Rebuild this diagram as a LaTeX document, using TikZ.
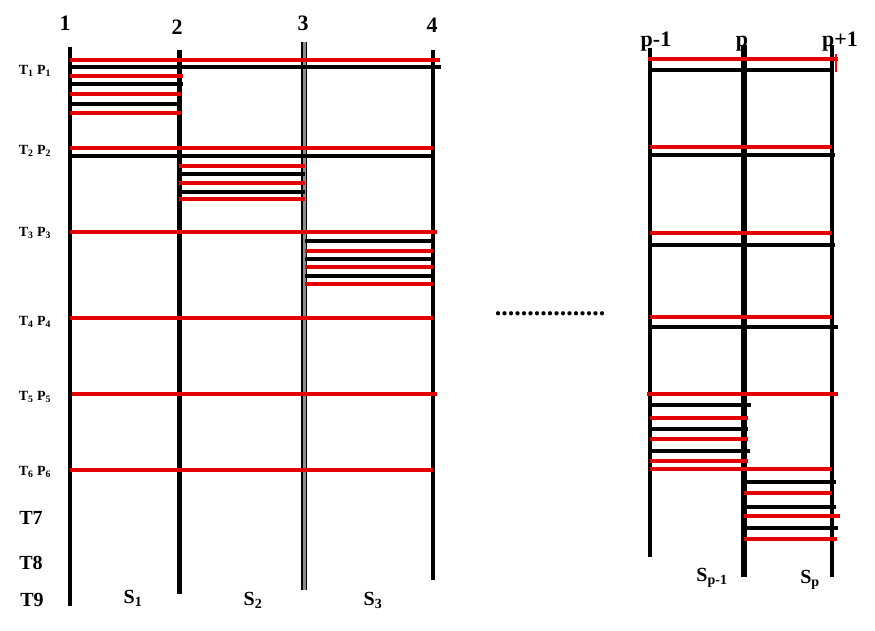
\documentclass[tikz,border=0pt]{standalone}
\usepackage{fontspec}
\setmainfont{Liberation Serif}
\begin{document}
\begin{tikzpicture}[x=1pt,y=-1pt,
  vline/.style={line width=4pt,black},
  rline/.style={line width=3.6pt,red!90!black},
  bline/.style={line width=3.2pt,black},
  big/.style={font=\fontsize{22}{24}\selectfont\bfseries,inner sep=0pt},
  mid/.style={font=\fontsize{20}{22}\selectfont\bfseries,inner sep=0pt},
  small/.style={font=\fontsize{14}{15}\selectfont\bfseries,inner sep=0pt}]
\useasboundingbox[fill=white] (0,0) rectangle (875,630);
% vertical lines
\draw[vline] (70,47) -- (70,606);
\draw[line width=5pt] (179,50) -- (179,594);
\draw[line width=5pt,black!45] (304,42) -- (304,590);
\draw[line width=1.2pt] (302,42) -- (302,590) (306.5,42) -- (306.5,590);
\draw[vline] (433,50) -- (433,580);
% group 1
\draw[rline] (70,60) -- (440,60);
\draw[bline] (70,67) -- (441,67);
\draw[rline] (70,76) -- (183,76);
\draw[bline] (70,84) -- (183,84);
\draw[rline] (70,94) -- (181,94);
\draw[bline] (70,104) -- (181,104);
\draw[rline,line width=4.5pt] (70,113) -- (181,113);
% group 2
\draw[rline] (70,148) -- (433,148);
\draw[bline] (70,156) -- (433,156);
\draw[rline] (179,166) -- (305,166);
\draw[bline] (179,174) -- (305,174);
\draw[rline] (179,183) -- (305,183);
\draw[bline] (179,192) -- (305,192);
\draw[rline] (179,199) -- (305,199);
% group 3
\draw[rline] (70,232) -- (437,232);
\draw[bline] (305,241) -- (433,241);
\draw[rline] (305,251) -- (433,251);
\draw[bline] (305,259) -- (433,259);
\draw[rline] (305,267) -- (433,267);
\draw[bline] (305,276) -- (433,276);
\draw[rline] (305,284) -- (433,284);
% groups 4-6
\draw[rline,line width=4.5pt] (70,318) -- (433,318);
\draw[rline] (72,394) -- (437,394);
\draw[rline] (70,470) -- (433,470);
% column labels
\node[big] (c1) at (65,23) {1};
\node[big] (c2) at (177,27) {2};
\node[big] (c3) at (303,23) {3};
\node[big] (c4) at (432,25) {4};
% row labels
\node[small] (r1) at (35,71) {T\textsubscript{1} P\textsubscript{1}};
\node[small] (r2) at (35,151) {T\textsubscript{2} P\textsubscript{2}};
\node[small] (r3) at (35,233) {T\textsubscript{3} P\textsubscript{3}};
\node[small] (r4) at (35,322) {T\textsubscript{4} P\textsubscript{4}};
\node[small] (r5) at (35,397) {T\textsubscript{5} P\textsubscript{5}};
\node[small] (r6) at (35,472) {T\textsubscript{6} P\textsubscript{6}};
\node[mid] (t7) at (31,518) {T7};
\node[mid] (t8) at (31,563) {T8};
\node[mid] (t9) at (32,600) {T9};
\node[mid] (s1) at (133,598) {S\textsubscript{1}};
\node[mid] (s2) at (253,600) {S\textsubscript{2}};
\node[mid] (s3) at (373,600) {S\textsubscript{3}};
% dots
\node[font=\fontsize{26}{26}\selectfont\bfseries,inner sep=0pt] (dots) at (550,314) {.................};
% right part
\draw[vline] (650,48) -- (650,557);
\draw[line width=6pt] (744,45) -- (744,577);
\draw[vline] (832,45) -- (832,577);
\draw[rline] (648,59) -- (838,59);
\draw[red,line width=2pt] (836,54) -- (836,72);
\draw[bline] (650,70) -- (832,70);
\draw[rline] (650,147) -- (832,147);
\draw[bline] (650,155) -- (835,155);
\draw[rline] (650,233) -- (832,233);
\draw[bline] (650,245) -- (835,245);
\draw[rline] (650,317) -- (832,317);
\draw[bline] (650,327) -- (838,327);
\draw[rline] (647,394) -- (838,394);
\draw[bline] (650,405) -- (751,405);
\draw[rline] (650,418) -- (748,418);
\draw[bline] (650,429) -- (748,429);
\draw[rline] (650,439) -- (748,439);
\draw[bline] (650,451) -- (750,451);
\draw[rline] (650,461) -- (748,461);
\draw[rline] (650,469) -- (832,469);
\draw[bline] (744,482) -- (836,482);
\draw[rline] (744,493) -- (832,493);
\draw[bline] (744,507) -- (836,507);
\draw[rline] (744,516) -- (840,516);
\draw[bline] (744,528) -- (838,528);
\draw[rline] (744,539) -- (837,539);
\node[big] (cp1) at (656,42) {p-1};
\node[big] (cp) at (742,44) {p};
\node[big] (cp2) at (840,42) {p+1};
\node[mid] (sp1) at (712,578) {S\textsubscript{p-1}};
\node[mid] (sp) at (810,580) {S\textsubscript{p}};
\end{tikzpicture}
\end{document}
